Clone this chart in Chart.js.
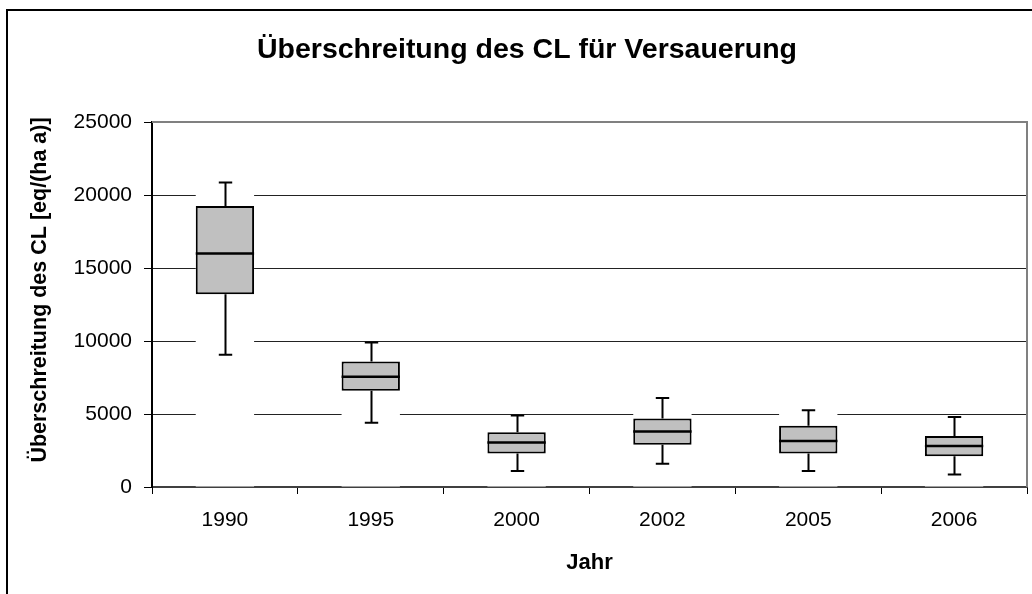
<!DOCTYPE html>
<html>
<head>
<meta charset="utf-8">
<script src="https://cdn.jsdelivr.net/npm/chart.js@4.4.1/dist/chart.umd.min.js"></script>
<style>
  html, body { margin: 0; padding: 0; background: #fff; overflow: hidden; }
  #wrap { position: relative; width: 1032px; height: 594px; }
  #frame { position: absolute; left: 6px; top: 9px; width: 2000px; height: 2000px;
           border-left: 2px solid #000; border-top: 2px solid #000; pointer-events: none; }
  canvas { position: absolute; left: 0; top: 0; }
</style>
</head>
<body>
<div id="wrap">
  <canvas id="c" width="1032" height="594"></canvas>
  <div id="frame"></div>
</div>
<script>
// ---- data ----
const years = ['1990', '1995', '2000', '2002', '2005', '2006'];
const whiskerMax = [20850, 9900, 4900, 6100, 5250, 4800];
const q3 = [19250, 8600, 3750, 4700, 4200, 3500];
const median = [16000, 7550, 3050, 3800, 3150, 2800];
const q1 = [13200, 6600, 2300, 2900, 2300, 2100];
const whiskerMin = [9050, 4400, 1100, 1600, 1100, 850];
const yMin = 0, yMax = 25000, yStep = 5000;

const titleText = 'Überschreitung des CL für Versauerung';
const yTitleText = 'Überschreitung des CL [eq/(ha a)]';
const xTitleText = 'Jahr';

const FONT = "'Liberation Sans', Arial, Helvetica, sans-serif";

// white background bars (hide gridlines behind the whiskers), and the boxes
const backRanges = years.map((_, i) => [yMin, whiskerMax[i]]);
const boxRanges = years.map((_, i) => [q1[i], q3[i]]);

const boxPlugin = {
  id: 'boxWhiskers',
  afterDatasetsDraw(chart) {
    const ctx = chart.ctx;
    const y = chart.scales.y;
    const meta = chart.getDatasetMeta(1);
    ctx.save();
    ctx.strokeStyle = '#000';
    meta.data.forEach((bar, i) => {
      const x = Math.round(bar.x) + 0.5;
      const w = bar.width;
      const capHalf = w * 0.115;
      const yTop = y.getPixelForValue(q3[i]);
      const yBot = y.getPixelForValue(q1[i]);
      const yMaxP = y.getPixelForValue(whiskerMax[i]);
      const yMinP = y.getPixelForValue(whiskerMin[i]);
      const yMed = y.getPixelForValue(median[i]);
      ctx.lineWidth = 2;
      ctx.beginPath();
      ctx.moveTo(x, yTop); ctx.lineTo(x, yMaxP);
      ctx.moveTo(x, yBot); ctx.lineTo(x, yMinP);
      ctx.moveTo(x - capHalf, yMaxP); ctx.lineTo(x + capHalf, yMaxP);
      ctx.moveTo(x - capHalf, yMinP); ctx.lineTo(x + capHalf, yMinP);
      ctx.stroke();
      ctx.lineWidth = 2.5;
      ctx.beginPath();
      ctx.moveTo(bar.x - w / 2, yMed); ctx.lineTo(bar.x + w / 2, yMed);
      ctx.stroke();
    });
    ctx.restore();
  },
  afterDraw(chart) {
    const {ctx, chartArea: a} = chart;
    ctx.save();
    // plot-area frame (top and right edges)
    ctx.strokeStyle = '#808080';
    ctx.lineWidth = 2;
    ctx.beginPath();
    ctx.moveTo(a.left, a.top);
    ctx.lineTo(a.right, a.top);
    ctx.lineTo(a.right, a.bottom);
    ctx.stroke();
    // chart title
    ctx.fillStyle = '#000';
    ctx.textAlign = 'center';
    ctx.textBaseline = 'alphabetic';
    ctx.font = 'bold 28.5px ' + FONT;
    ctx.fillText(titleText, 527, 58);
    // y-axis title
    ctx.font = 'bold 21.5px ' + FONT;
    ctx.translate(46, 290);
    ctx.rotate(-Math.PI / 2);
    ctx.fillText(yTitleText, 0, 0);
    ctx.restore();
  }
};

new Chart(document.getElementById('c'), {
  type: 'bar',
  data: {
    labels: years,
    datasets: [
      {
        label: 'back',
        data: backRanges,
        backgroundColor: '#ffffff',
        borderWidth: 0,
        grouped: false,
        order: 2,
        categoryPercentage: 1,
        barPercentage: 0.4
      },
      {
        label: 'box',
        data: boxRanges,
        backgroundColor: '#c0c0c0',
        borderColor: '#000000',
        borderWidth: 2,
        borderSkipped: false,
        grouped: false,
        order: 1,
        categoryPercentage: 1,
        barPercentage: 0.4
      }
    ]
  },
  options: {
    responsive: false,
    animation: false,
    events: [],
    layout: { padding: { left: 0, right: 5, top: 122, bottom: 0 } },
    plugins: {
      legend: { display: false },
      tooltip: { enabled: false },
      title: { display: false }
    },
    scales: {
      x: {
        offset: true,
        grid: { display: true, drawOnChartArea: false, drawTicks: true, tickLength: 7,
                color: '#000', offset: true },
        border: { display: true, color: '#404040', width: 2 },
        ticks: { color: '#000', font: { family: FONT, size: 21 }, padding: 14 },
        title: { display: true, text: xTitleText, color: '#000',
                 font: { family: FONT, size: 22, weight: 'bold' },
                 padding: { top: 0, bottom: 18 } },
        afterFit(scale) { scale.height = 107; }
      },
      y: {
        min: yMin,
        max: yMax,
        grid: { color: '#222', lineWidth: 1, drawTicks: true, tickLength: 8, tickColor: '#000' },
        border: { display: true, color: '#000', width: 2 },
        ticks: { stepSize: yStep, color: '#000', font: { family: FONT, size: 21 }, padding: 12,
                 callback: (v) => String(v) },
        title: { display: false },
        afterFit(scale) { scale.width = 152; }
      }
    }
  },
  plugins: [boxPlugin]
});
</script>
</body>
</html>
